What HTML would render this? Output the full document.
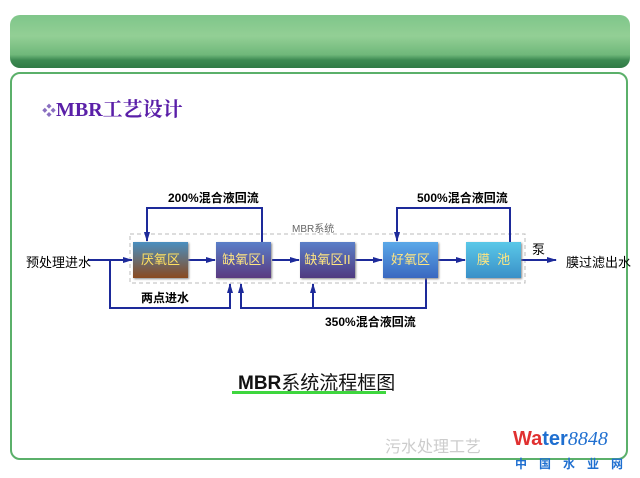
<!DOCTYPE html>
<html><head><meta charset="utf-8"><style>
body{margin:0;width:640px;height:478px;background:#fff;position:relative;overflow:hidden;font-family:"Liberation Sans","Noto Sans CJK SC",sans-serif}
.banner{position:absolute;left:10px;top:15px;width:620px;height:53px;border-radius:10px;background:linear-gradient(180deg,#7fc68a 0%,#93cf95 40%,#6fb87a 75%,#3d8a52 85%,#2f7a45 100%)}
.content{position:absolute;left:10px;top:72px;width:618px;height:388px;border:2px solid #5bb06a;border-radius:10px;box-sizing:border-box}
.t{position:absolute;white-space:nowrap}
.box{position:absolute;top:242px;width:55px;height:36px;font-size:13px;text-align:center;line-height:36px;color:#ffe680;box-shadow:1px 1px 2px #888}
</style></head><body>
<div class="banner"></div>
<div class="content"></div>
<div class="t" style="left:42px;top:93px;font-size:20px;font-weight:bold;color:#5a1fa8;font-family:'Liberation Serif','Noto Serif CJK SC',serif"><span style="color:#8a6fc0;font-size:14px">❖</span>MBR工艺设计</div>
<svg width="640" height="478" style="position:absolute;left:0;top:0">
<defs><marker id="a" markerUnits="userSpaceOnUse" markerWidth="10" markerHeight="8" refX="9" refY="4" orient="auto"><path d="M0,1L10,4L0,7z" fill="#1d2a9a"/></marker></defs>
<rect x="130" y="234" width="395" height="49" fill="none" stroke="#bbb" stroke-dasharray="4,3"/>
<g stroke="#1d2a9a" stroke-width="2" fill="none">
<path d="M88 260H132" marker-end="url(#a)"/>
<path d="M110 260V308H230V284" marker-end="url(#a)"/>
<path d="M188 260H215" marker-end="url(#a)"/>
<path d="M272 260H299" marker-end="url(#a)"/>
<path d="M355 260H382" marker-end="url(#a)"/>
<path d="M438 260H465" marker-end="url(#a)"/>
<path d="M521 260H556" marker-end="url(#a)"/>
<path d="M262 242V208H147V241" marker-end="url(#a)"/>
<path d="M510 242V208H397V241" marker-end="url(#a)"/>
<path d="M426 278V308H241V284" marker-end="url(#a)"/>
<path d="M313 308V284" marker-end="url(#a)"/>
</g></svg>
<div class="box" style="left:133px;background:linear-gradient(180deg,#4a8fc0,#8a4a20);color:#ffe060">厌氧区</div>
<div class="box" style="left:216px;background:linear-gradient(180deg,#5a7fc8,#5a3a80)">缺氧区I</div>
<div class="box" style="left:300px;background:linear-gradient(180deg,#5a7fc8,#503a80)">缺氧区II</div>
<div class="box" style="left:383px;background:linear-gradient(180deg,#5aa8e8,#3a68c0)">好氧区</div>
<div class="box" style="left:466px;background:linear-gradient(180deg,#5ac8e8,#3a90c8)">膜&nbsp;&nbsp;池</div>
<div class="t" style="left:26px;top:252px;font-size:13px">预处理进水</div>
<div class="t" style="left:566px;top:252px;font-size:13px">膜过滤出水</div>
<div class="t" style="left:532px;top:239px;font-size:13px">泵</div>
<div class="t" style="left:168px;top:189px;font-size:12px;font-weight:bold">200%混合液回流</div>
<div class="t" style="left:417px;top:189px;font-size:12px;font-weight:bold">500%混合液回流</div>
<div class="t" style="left:325px;top:313px;font-size:12px;font-weight:bold">350%混合液回流</div>
<div class="t" style="left:141px;top:289px;font-size:12px;font-weight:bold">两点进水</div>
<div class="t" style="left:292px;top:220px;font-size:10px;color:#666">MBR系统</div>
<div class="t" style="left:238px;top:368px;font-size:19px;color:#111"><b>MBR</b>系统流程框图</div>
<div style="position:absolute;left:232px;top:391px;width:154px;height:3px;background:#3ed63e"></div>
<div class="t" style="left:385px;top:433px;font-size:16px;color:#ccc">污水处理工艺</div>
<div class="t" style="left:513px;top:428px;font-size:20px;font-weight:bold;color:#e03030">Wa<span style="color:#1f6fd0">ter</span><span style="color:#1f6fd0;font-style:italic;font-weight:normal;font-family:'Liberation Serif',serif">8848</span></div>
<div class="t" style="left:515px;top:455px;font-size:12px;color:#1f6fd0;letter-spacing:12px;font-weight:bold">中国水业网</div>
</body></html>
